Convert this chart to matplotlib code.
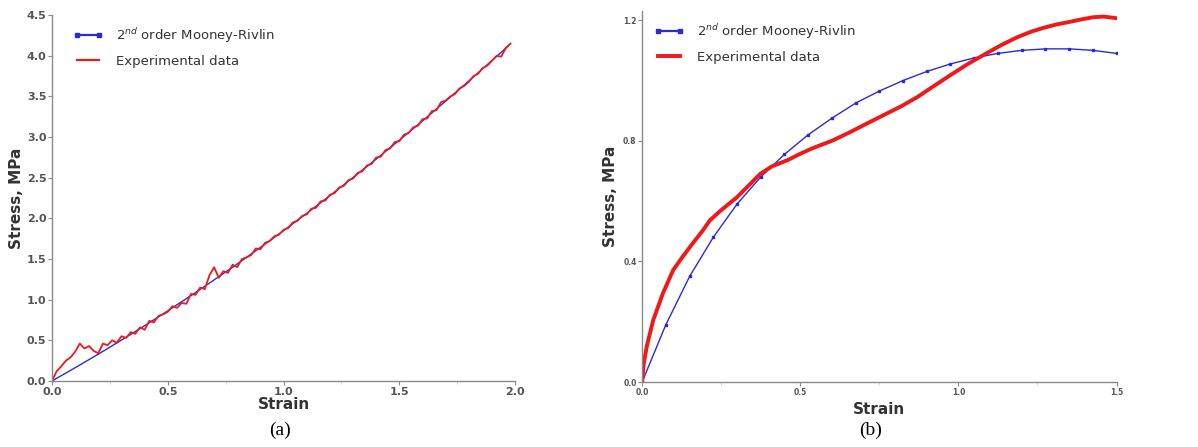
import matplotlib
matplotlib.use("Agg")
import matplotlib.pyplot as plt
from matplotlib.lines import Line2D

# (a) Mooney-Rivlin fit vs experiment, strain 0..2
a_model_strain = [0.0, 0.1, 0.2, 0.3, 0.4, 0.5, 0.6, 0.7, 0.8, 0.9, 1.0,
                  1.1, 1.2, 1.3, 1.4, 1.5, 1.6, 1.7, 1.8, 1.9, 1.97]
a_model_stress = [0.0, 0.163, 0.33, 0.503, 0.68, 0.863, 1.05, 1.243, 1.44, 1.643, 1.85,
                  2.063, 2.28, 2.503, 2.73, 2.963, 3.2, 3.443, 3.69, 3.943, 4.12]

a_exp_strain = [0.00, 0.02, 0.04, 0.06, 0.08, 0.10, 0.12, 0.14, 0.16, 0.18,
                0.20, 0.22, 0.24, 0.26, 0.28, 0.30, 0.32, 0.34, 0.36, 0.38,
                0.40, 0.42, 0.44, 0.46, 0.48, 0.50, 0.52, 0.54, 0.56, 0.58,
                0.60, 0.62, 0.64, 0.66, 0.68, 0.70, 0.72, 0.74, 0.76, 0.78,
                0.80, 0.82, 0.84, 0.86, 0.88, 0.90, 0.92, 0.94, 0.96, 0.98,
                1.00, 1.02, 1.04, 1.06, 1.08, 1.10, 1.12, 1.14, 1.16, 1.18,
                1.20, 1.22, 1.24, 1.26, 1.28, 1.30, 1.32, 1.34, 1.36, 1.38,
                1.40, 1.42, 1.44, 1.46, 1.48, 1.50, 1.52, 1.54, 1.56, 1.58,
                1.60, 1.62, 1.64, 1.66, 1.68, 1.70, 1.72, 1.74, 1.76, 1.78,
                1.80, 1.82, 1.84, 1.86, 1.88, 1.90, 1.92, 1.94, 1.96, 1.98]
a_exp_stress = [0.00, 0.12, 0.18, 0.25, 0.29, 0.36, 0.46, 0.40, 0.43, 0.37,
                0.34, 0.46, 0.44, 0.50, 0.47, 0.55, 0.53, 0.60, 0.58, 0.66,
                0.63, 0.74, 0.72, 0.80, 0.82, 0.85, 0.92, 0.90, 0.96, 0.95,
                1.07, 1.06, 1.15, 1.13, 1.30, 1.40, 1.27, 1.35, 1.33, 1.43,
                1.40, 1.50, 1.52, 1.55, 1.63, 1.62, 1.70, 1.72, 1.78, 1.80,
                1.86, 1.88, 1.95, 1.97, 2.03, 2.05, 2.12, 2.13, 2.21, 2.22,
                2.29, 2.31, 2.38, 2.40, 2.47, 2.49, 2.56, 2.58, 2.65, 2.67,
                2.75, 2.76, 2.84, 2.86, 2.94, 2.95, 3.03, 3.05, 3.12, 3.14,
                3.22, 3.23, 3.32, 3.33, 3.43, 3.45, 3.50, 3.53, 3.60, 3.63,
                3.68, 3.75, 3.78, 3.85, 3.88, 3.94, 4.00, 3.99, 4.10, 4.15]

# (b) Mooney-Rivlin fit vs experiment, strain 0..1.5
b_model_strain = [0.0, 0.075, 0.15, 0.225, 0.30, 0.375, 0.45, 0.525, 0.60, 0.675, 0.75,
                  0.825, 0.90, 0.975, 1.05, 1.125, 1.20, 1.275, 1.35, 1.425, 1.50]
b_model_stress = [0.0, 0.19, 0.35, 0.48, 0.59, 0.68, 0.755, 0.82, 0.875, 0.925, 0.965,
                  1.0, 1.03, 1.055, 1.075, 1.09, 1.10, 1.105, 1.105, 1.10, 1.09]

b_exp_strain = [0.0, 0.005, 0.015, 0.035, 0.066, 0.098, 0.127, 0.16, 0.19, 0.215, 0.25,
                0.30, 0.34, 0.373, 0.41, 0.46, 0.50, 0.54, 0.60, 0.658, 0.71, 0.763,
                0.82, 0.87, 0.92, 0.975, 1.03, 1.095, 1.14, 1.187, 1.23, 1.27, 1.31,
                1.345, 1.39, 1.427, 1.46, 1.497]
b_exp_stress = [0.0, 0.06, 0.12, 0.205, 0.295, 0.371, 0.414, 0.46, 0.50, 0.537, 0.57,
                0.613, 0.655, 0.69, 0.715, 0.736, 0.757, 0.776, 0.80, 0.829, 0.857, 0.885,
                0.915, 0.945, 0.98, 1.018, 1.055, 1.094, 1.12, 1.144, 1.162, 1.175, 1.186,
                1.193, 1.203, 1.21, 1.212, 1.207]

GRAY = "#8a8a8a"
TICK = "#555555"
BLUE = "#2a2adc"
RED = "#f01818"


def style_axes(ax):
    for s in ("top", "right"):
        ax.spines[s].set_visible(False)
    for s in ("left", "bottom"):
        ax.spines[s].set_color(GRAY)
        ax.spines[s].set_linewidth(1.0)
    ax.tick_params(colors=GRAY, length=3, width=0.8, pad=1)
    ax.tick_params(which="minor", colors="#cccccc", length=2)


def add_legend(ax, red_lw, anchor):
    handles = [Line2D([], [], color=BLUE, lw=1.6, marker="s", ms=3),
               Line2D([], [], color=RED, lw=red_lw)]
    labels = ["2$^{nd}$ order Mooney-Rivlin", "Experimental data"]
    ax.legend(handles, labels, loc="upper left", bbox_to_anchor=anchor, frameon=False,
              fontsize=9.5, handlelength=2.2, numpoints=2, borderaxespad=0.0,
              labelspacing=0.75, handletextpad=1.0, labelcolor="#333333")


fig = plt.figure(figsize=(11.98, 4.47), dpi=100)

ax = fig.add_axes([0.0434, 0.1477, 0.3866, 0.8183])
ax.plot(a_model_strain, a_model_stress, color=BLUE, lw=1.0)
ax.plot(a_exp_strain, a_exp_stress, color=RED, lw=1.3)
ax.set_xlim(0, 2.0)
ax.set_ylim(0, 4.5)
ax.set_xticks([0.0, 0.5, 1.0, 1.5, 2.0])
ax.set_xticks([0.25, 0.75, 1.25, 1.75], minor=True)
ax.set_yticks([0.0, 0.5, 1.0, 1.5, 2.0, 2.5, 3.0, 3.5, 4.0, 4.5])
style_axes(ax)
for lab in ax.get_xticklabels() + ax.get_yticklabels():
    lab.set_fontsize(8)
    lab.set_fontweight("bold")
    lab.set_color(TICK)
ax.set_xlabel("Strain", fontsize=11, fontweight="bold", color="#333333", labelpad=0)
ax.set_ylabel("Stress, MPa", fontsize=11, fontweight="bold", color="#333333", labelpad=2)
add_legend(ax, 1.6, (0.035, 0.985))

bx = fig.add_axes([0.536, 0.1454, 0.396, 0.8296])
bx.plot(b_model_strain, b_model_stress, color=BLUE, lw=1.0, marker="s", ms=1.8)
bx.plot(b_exp_strain, b_exp_stress, color=RED, lw=2.8)
bx.set_xlim(0, 1.5)
bx.set_ylim(0, 1.23)
bx.set_xticks([0.0, 0.5, 1.0, 1.5])
bx.set_xticks([0.25, 0.75, 1.25], minor=True)
bx.set_yticks([0.0, 0.4, 0.8, 1.2])
style_axes(bx)
for lab in bx.get_xticklabels() + bx.get_yticklabels():
    lab.set_fontsize(5.5)
    lab.set_fontweight("bold")
    lab.set_color(TICK)
bx.set_xlabel("Strain", fontsize=11, fontweight="bold", color="#333333", labelpad=4)
bx.set_ylabel("Stress, MPa", fontsize=11, fontweight="bold", color="#333333", labelpad=4)
add_legend(bx, 2.8, (0.015, 0.985))

fig.text(0.234, 0.027, "(a)", fontsize=14, family="Liberation Serif", ha="center")
fig.text(0.727, 0.027, "(b)", fontsize=14, family="Liberation Serif", ha="center")

fig.savefig("out.png", dpi=100)
